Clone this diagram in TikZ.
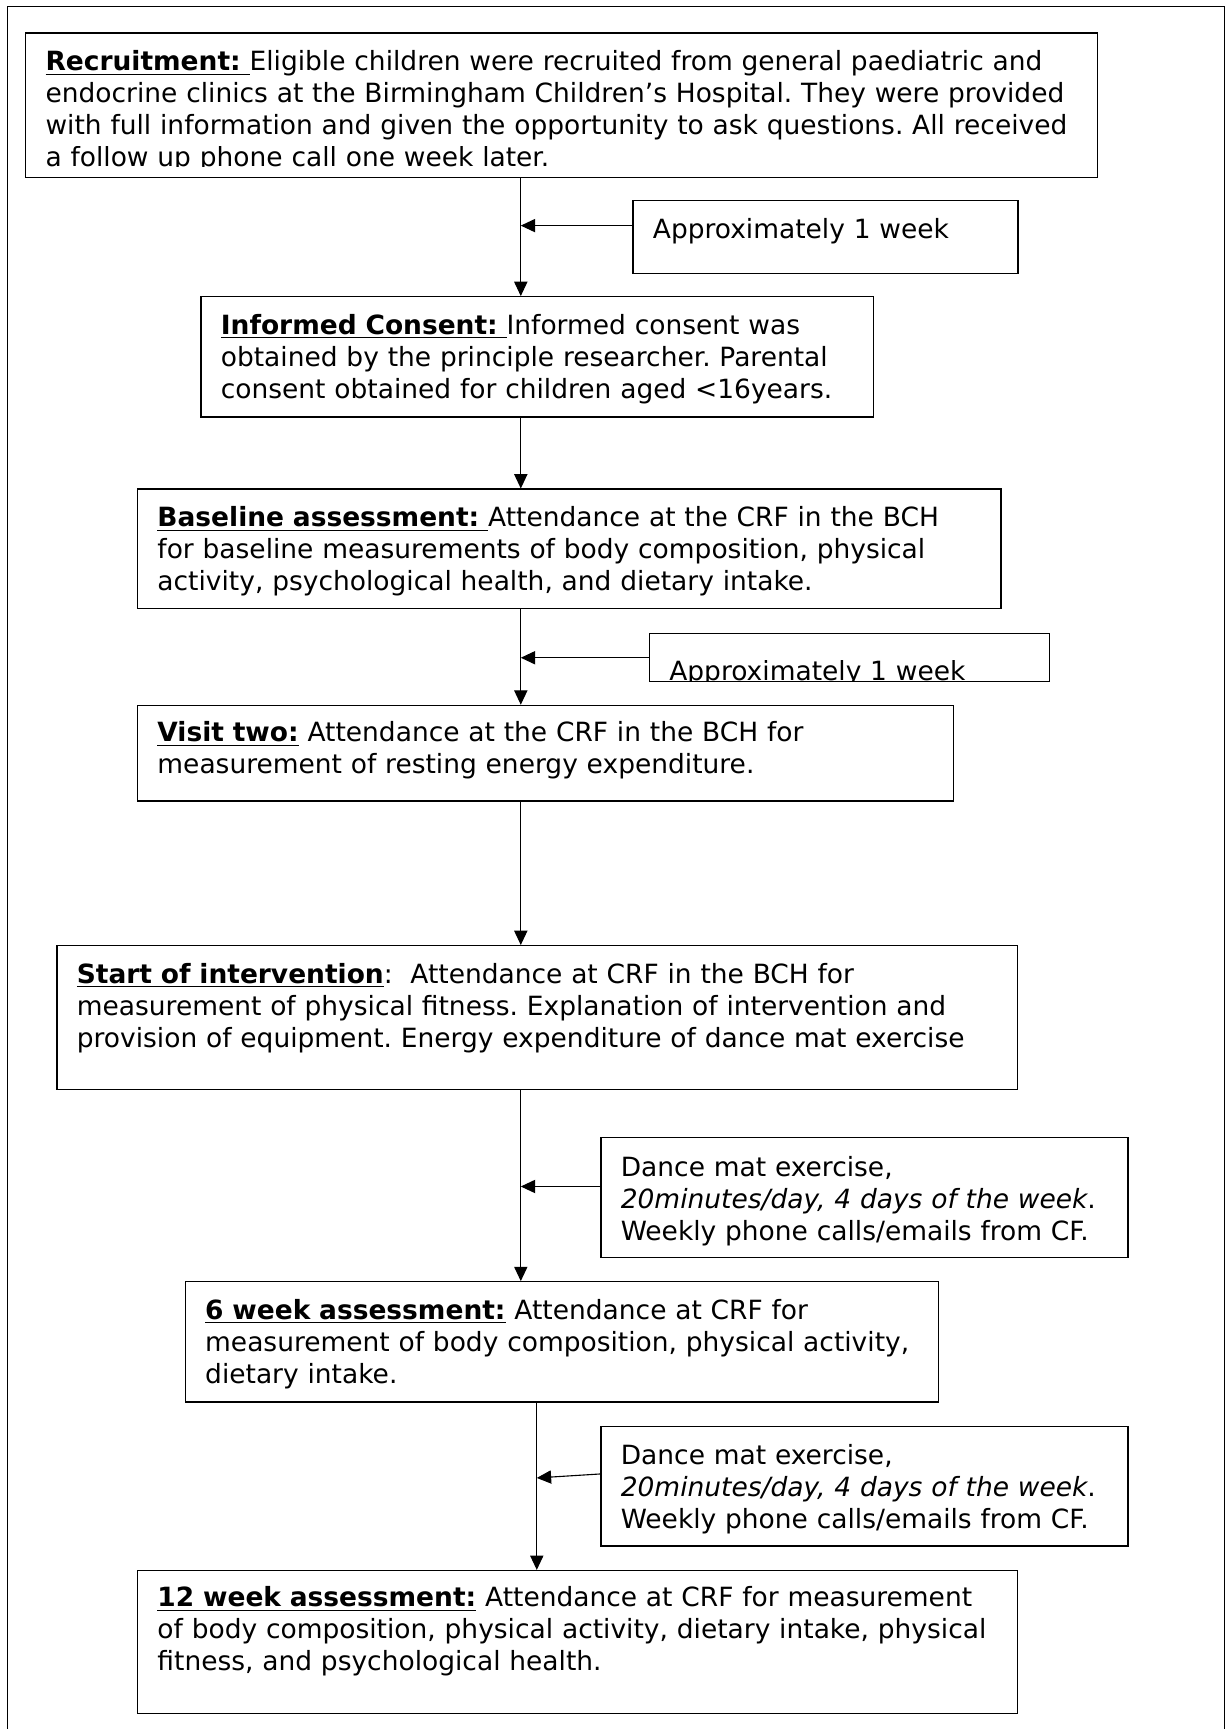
\documentclass[tikz,border=0pt]{standalone}
\usepackage{fontspec}
\setmainfont{DejaVu Sans}
\usepackage{trimclip}
\usetikzlibrary{arrows.meta}
\frenchspacing
\newcommand{\stagehead}[1]{\underline{\textbf{#1}}}
\newcommand{\cutline}[1]{\clipbox{0pt {\depth} 0pt 0pt}{#1}}

\begin{document}
\begin{tikzpicture}[x=0.5pt,y=-0.5pt,font=\fontsize{12}{14.5}\selectfont,
  box/.style={draw,line width=0.6pt,anchor=north west,align=left,inner xsep=9pt,inner ysep=0pt,text height=17pt},
  arr/.style={-{Triangle[length=6.5pt,width=6pt]},line width=0.5pt}]
\useasboundingbox (0,0) rectangle (1113,1568);
\draw[line width=0.7pt] (7,6) rectangle (1110.5,1600);
\coordinate (spine) at (472.3,0);
\coordinate (spineb) at (486.8,0);
\node[box,text width=468pt,text height=17.2pt,text depth=48.4pt] (recruit) at (22.7,29.2)
 {\stagehead{Recruitment:\ }Eligible children were recruited from general paediatric and\\
  endocrine clinics at the Birmingham Children’s Hospital. They were provided\\
  with full information and given the opportunity to ask questions. All received\\
  \cutline{a follow up phone call one week later.}};
\node[box,text width=156.5pt,text depth=16pt] (gapa) at (573.5,181.4) {Approximately 1 week};
\node[box,text width=287pt,text depth=37.5pt] (consent) at (181.7,268.5)
 {\stagehead{Informed Consent:\ }Informed consent was\\
  obtained by the principle researcher. Parental\\
  consent obtained for children aged <16years.};
\node[box,text width=373.5pt,text depth=37pt] (baseline) at (124.2,443)
 {\stagehead{Baseline assessment:\ }Attendance at the CRF in the BCH\\
  for baseline measurements of body composition, physical\\
  activity, psychological health, and dietary intake.};
\node[box,text width=163.3pt,text height=21pt,text depth=0.7pt] (gapb) at (588.4,574.2)
 {\cutline{Approximately 1 week}};
\node[box,text width=352pt,text height=16.4pt,text depth=27pt] (visit) at (124.2,639.1)
 {\stagehead{Visit two:} Attendance at the CRF in the BCH for\\
  measurement of resting energy expenditure.};
\node[box,text width=417.5pt,text depth=48.2pt] (start) at (51.1,857)
 {\stagehead{Start of intervention}:\ \ Attendance at CRF in the BCH for\\
  measurement of physical fitness. Explanation of intervention and\\
  provision of equipment. Energy expenditure of dance mat exercise};
\node[box,text width=221pt,text height=17.6pt,text depth=37pt] (dancea) at (544.4,1030.8)
 {Dance mat exercise,\\
  \textit{20minutes/day, 4 days of the week}.\\
  Weekly phone calls/emails from CF.};
\node[box,text width=323.5pt,text depth=37.5pt] (sixwk) at (167.5,1161.8)
 {\stagehead{6 week assessment:} Attendance at CRF for\\
  measurement of body composition, physical activity,\\
  dietary intake.};
\node[box,text width=221pt,text height=17.3pt,text depth=37pt] (danceb) at (544.4,1292.8)
 {Dance mat exercise,\\
  \textit{20minutes/day, 4 days of the week}.\\
  Weekly phone calls/emails from CF.};
\node[box,text width=381pt,text height=16.4pt,text depth=48.3pt] (twelvewk) at (124.2,1423.7)
 {\stagehead{12 week assessment:} Attendance at CRF for measurement\\
  of body composition, physical activity, dietary intake, physical\\
  fitness, and psychological health.};
\draw[arr] (recruit.south -| spine) -- (consent.north -| spine);
\draw[arr] (consent.south -| spine) -- (baseline.north -| spine);
\draw[arr] (baseline.south -| spine) -- (visit.north -| spine);
\draw[arr] (visit.south -| spine) -- (start.north -| spine);
\draw[arr] (start.south -| spine) -- (sixwk.north -| spine);
\draw[arr] (sixwk.south -| spineb) -- (twelvewk.north -| spineb);
\draw[arr] ([yshift=5.2pt]gapa.west) -- ([yshift=5.2pt]gapa.west -| spine);
\draw[arr] (gapb.west) -- (gapb.west -| spine);
\draw[arr] ([yshift=5pt]dancea.west) -- ([yshift=5pt]dancea.west -| spine);
\draw[arr] ([yshift=5.5pt]danceb.west) -- ([yshift=3.7pt]danceb.west -| spineb);
\end{tikzpicture}
\end{document}
